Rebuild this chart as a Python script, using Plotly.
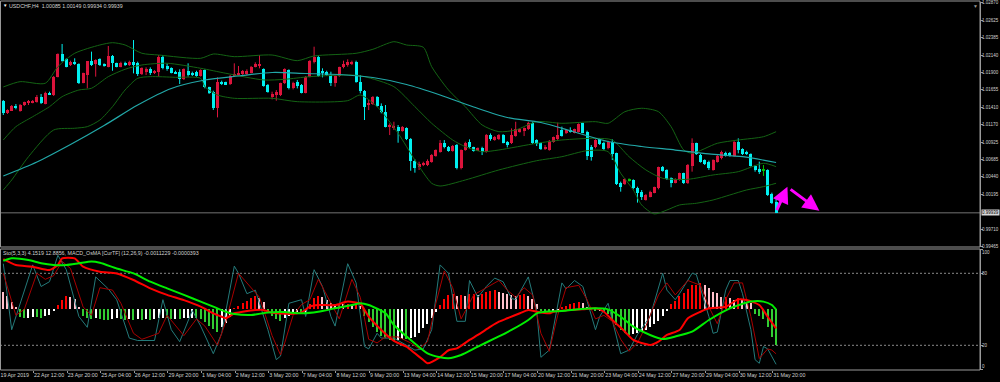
import plotly.graph_objects as go

# ---------------- DATA (USDCHF, H4) ----------------
opens = [1.01503,1.01326,1.01363,1.01428,1.01359,1.01442,1.01466,1.01475,1.01489,1.01559,
1.01456,1.01614,1.01582,1.01838,1.02154,1.02084,1.02001,1.02047,1.02014,1.01754,
1.01861,1.02056,1.02014,1.02080,1.02005,1.01977,1.02126,1.02024,1.01977,1.02033,
1.02001,1.02038,1.02024,1.01870,1.01908,1.01940,1.01884,1.01908,1.02117,1.01987,
1.01954,1.01908,1.01908,1.01800,1.01921,1.01894,1.01903,1.01847,1.01931,1.01689,
1.01628,1.01396,1.01768,1.01759,1.01735,1.01852,1.01861,1.01875,1.01875,1.01894,
1.01977,1.01987,1.01940,1.01721,1.01549,1.01581,1.01581,1.01744,1.01930,1.01674,
1.01767,1.01721,1.01614,1.01837,1.02047,1.02116,1.01921,1.01907,1.01861,1.01753,
1.01847,1.01968,1.02000,1.02014,1.02047,1.01767,1.01642,1.01442,1.01456,1.01558,
1.01428,1.01349,1.01130,1.01130,1.01130,1.01084,1.01116,1.00972,1.00665,1.00572,
1.00609,1.00604,1.00651,1.00730,1.00791,1.00916,1.00860,1.00804,1.00884,1.00558,
1.00814,1.00930,1.00851,1.00814,1.00837,1.00791,1.01023,1.00953,1.00963,1.01023,
1.00930,1.00907,1.01009,1.01070,1.01084,1.01102,1.01195,1.00954,1.00908,1.00824,
1.00815,1.00931,1.00964,1.01094,1.01047,1.01094,1.01057,1.01071,1.01187,1.01071,
1.00861,1.00852,1.00964,1.00917,1.00838,1.00931,1.00768,1.00359,1.00340,1.00396,
1.00396,1.00280,1.00233,1.00117,1.00163,1.00219,1.00280,1.00573,1.00536,1.00419,
1.00359,1.00396,1.00489,1.00349,1.00591,1.00908,1.00745,1.00675,1.00652,1.00536,
1.00652,1.00698,1.00777,1.00777,1.00731,1.00931,1.00824,1.00791,1.00759,1.00591,
1.00545,1.00536,1.00536,1.00201,1.00085]
highs = [1.01512,1.01382,1.01442,1.01456,1.01456,1.01489,1.01512,1.01512,1.01582,1.01596,
1.01628,1.01628,1.01847,1.02163,1.02294,1.02094,1.02061,1.02094,1.02024,1.01894,
1.02056,1.02187,1.02080,1.02094,1.02024,1.02266,1.02140,1.02033,1.02047,1.02047,
1.02061,1.02349,1.02047,1.01968,1.01968,1.01968,1.01931,1.02140,1.02140,1.02024,
1.01968,1.01921,1.01940,1.01954,1.02024,1.01908,1.01921,1.01940,1.01940,1.01698,
1.01642,1.01828,1.01782,1.01768,1.01861,1.02024,1.01987,1.01931,1.01940,1.01987,
1.02038,1.02140,1.01954,1.01735,1.01628,1.01651,1.01753,1.01954,1.01940,1.01767,
1.01791,1.01735,1.01847,1.02070,1.02256,1.02140,1.01954,1.01921,1.01907,1.01861,
1.01977,1.02061,1.02079,1.02061,1.02061,1.01861,1.01651,1.01512,1.01567,1.01567,
1.01465,1.01442,1.01186,1.01209,1.01163,1.01149,1.01130,1.00981,1.00684,1.00651,
1.00651,1.00684,1.00758,1.00823,1.00953,1.00953,1.00870,1.00884,1.00898,1.00823,
1.00930,1.00963,1.00860,1.00851,1.00860,1.01037,1.01046,1.01009,1.01037,1.01037,
1.00939,1.01116,1.01209,1.01116,1.01130,1.01209,1.01209,1.00964,1.00917,1.00884,
1.00954,1.01001,1.01196,1.01140,1.01103,1.01131,1.01112,1.01187,1.01196,1.01084,
1.00884,1.00964,1.00977,1.00931,1.00945,1.00964,1.00777,1.00373,1.00419,1.00419,
1.00405,1.00303,1.00256,1.00201,1.00247,1.00303,1.00582,1.00591,1.00545,1.00433,
1.00419,1.00498,1.00498,1.00619,1.00977,1.00917,1.00759,1.00684,1.00666,1.00684,
1.00745,1.00805,1.00791,1.00787,1.00954,1.00977,1.00838,1.00805,1.00768,1.00605,
1.00652,1.00605,1.00545,1.00219,1.00149]
lows = [1.01303,1.01317,1.01359,1.01382,1.01349,1.01428,1.01442,1.01466,1.01475,1.01456,
1.01452,1.01582,1.01568,1.01828,1.02047,1.01968,1.01987,1.02001,1.01735,1.01745,
1.01675,1.01987,1.01838,1.01987,1.01977,1.01968,1.01921,1.01968,1.01968,1.01987,
1.01987,1.01884,1.01847,1.01861,1.01861,1.01861,1.01875,1.01838,1.01940,1.01921,
1.01884,1.01875,1.01735,1.01791,1.01838,1.01847,1.01838,1.01838,1.01675,1.01596,
1.01373,1.01270,1.01721,1.01721,1.01721,1.01838,1.01847,1.01861,1.01861,1.01884,
1.01968,1.01954,1.01698,1.01614,1.01521,1.01502,1.01567,1.01735,1.01660,1.01660,
1.01674,1.01605,1.01605,1.01828,1.02023,1.01837,1.01828,1.01847,1.01707,1.01698,
1.01837,1.01954,1.01977,1.02000,1.01753,1.01605,1.01233,1.01372,1.01442,1.01419,
1.01326,1.01130,1.01023,1.01093,1.00916,1.01070,1.00953,1.00525,1.00498,1.00535,
1.00590,1.00590,1.00637,1.00721,1.00777,1.00837,1.00791,1.00791,1.00544,1.00544,
1.00804,1.00837,1.00791,1.00804,1.00744,1.00777,1.00944,1.00944,1.00953,1.00907,
1.00851,1.00898,1.01000,1.01056,1.01009,1.01093,1.00898,1.00870,1.00815,1.00815,
1.00805,1.00917,1.00954,1.01001,1.01038,1.01057,1.01047,1.01057,1.01047,1.00675,
1.00666,1.00838,1.00884,1.00815,1.00824,1.00675,1.00326,1.00233,1.00326,1.00373,
1.00266,1.00080,1.00117,1.00108,1.00154,1.00210,1.00266,1.00512,1.00396,1.00294,
1.00349,1.00387,1.00340,1.00340,1.00512,1.00745,1.00638,1.00605,1.00536,1.00526,
1.00638,1.00684,1.00722,1.00722,1.00722,1.00768,1.00745,1.00745,1.00582,1.00512,
1.00480,1.00452,1.00173,1.00061,0.99934]
closes = [1.01326,1.01373,1.01428,1.01405,1.01442,1.01479,1.01498,1.01498,1.01549,1.01475,
1.01614,1.01591,1.01838,1.02154,1.02061,1.01977,1.02047,1.02014,1.01754,1.01884,
1.02056,1.02001,1.02070,1.01996,1.01987,1.02126,1.02024,1.01977,1.02033,1.01996,
1.02038,1.02014,1.01875,1.01954,1.01940,1.01884,1.01921,1.02117,1.01954,1.01940,
1.01894,1.01884,1.01800,1.01940,1.01861,1.01861,1.01847,1.01931,1.01689,1.01614,
1.01396,1.01768,1.01735,1.01735,1.01847,1.01870,1.01894,1.01921,1.01921,1.01977,
1.02010,1.02005,1.01707,1.01628,1.01595,1.01628,1.01744,1.01940,1.01674,1.01753,
1.01707,1.01614,1.01837,1.02061,1.02116,1.01847,1.01884,1.01861,1.01753,1.01847,
1.01968,1.02014,1.02047,1.02047,1.01767,1.01642,1.01419,1.01474,1.01558,1.01428,
1.01349,1.01140,1.01163,1.01149,1.01084,1.01130,1.00963,1.00665,1.00558,1.00618,
1.00628,1.00665,1.00744,1.00814,1.00916,1.00851,1.00804,1.00870,1.00558,1.00814,
1.00916,1.00851,1.00804,1.00837,1.00791,1.01023,1.00963,1.00991,1.01023,1.00916,
1.00884,1.01023,1.01102,1.01102,1.01116,1.01195,1.00916,1.00898,1.00824,1.00861,
1.00945,1.00991,1.01024,1.01010,1.01094,1.01066,1.01103,1.01177,1.01057,1.00731,
1.00722,1.00954,1.00898,1.00824,1.00931,1.00759,1.00340,1.00303,1.00405,1.00396,
1.00280,1.00210,1.00154,1.00187,1.00233,1.00294,1.00573,1.00526,1.00405,1.00359,
1.00405,1.00489,1.00349,1.00605,1.00908,1.00759,1.00652,1.00619,1.00559,1.00675,
1.00731,1.00791,1.00731,1.00731,1.00931,1.00815,1.00759,1.00759,1.00591,1.00536,
1.00512,1.00536,1.00187,1.00080,0.99939]

# Moving average (sampled every 8 bars)
ma_idx = [0,8,16,24,32,40,48,56,64,72,80,88,96,104,112,120,128,136,144,152,160,168,176,184]
ma_vals = [1.00452,1.00647,1.00891,1.01156,1.01442,1.01673,1.01791,1.01847,1.01896,1.01882,
1.01868,1.01826,1.01729,1.01582,1.01415,1.01268,1.01198,1.01066,1.00933,1.00863,
1.00814,1.00759,1.00721,1.00640]

# Bollinger bands
bb_up_idx = [0,4,10,13,17,23,26,29,33,37,47,50,55,64,70,74,84,88,93,96,100,102,106,110,114,
118,122,127,133,141,144,148,152,156,159,162,164,170,175,181,184]
bb_up = [1.01694,1.01768,1.01746,1.01977,1.02164,1.02280,1.02312,1.02280,1.02164,1.02140,
1.02094,1.02154,1.02117,1.02140,1.02061,1.02127,1.02164,1.02220,1.02326,1.02280,1.02248,
1.01977,1.01652,1.01419,1.01164,1.01070,1.01094,1.01210,1.01187,1.01210,1.01187,1.01349,
1.01397,1.01349,1.01140,1.00815,1.00769,1.00908,1.00954,1.01000,1.01070]
bb_mid_idx = [0,3,7,11,14,18,21,25,29,33,39,47,53,62,67,73,83,86,93,98,102,107,110,114,118,
127,133,141,145,149,153,157,163,169,175,181,184]
bb_mid = [1.00954,1.01140,1.01279,1.01419,1.01559,1.01652,1.01676,1.01838,1.01941,1.02001,
1.02025,1.01955,1.01885,1.01792,1.01801,1.01838,1.01861,1.01838,1.01698,1.01419,1.01187,
1.00954,1.00861,1.00791,1.00815,1.00908,1.00954,1.00978,1.00954,1.00721,1.00536,1.00420,
1.00406,1.00466,1.00512,1.00629,1.00582]
bb_low_idx = [0,2,6,12,17,20,23,26,29,32,35,41,47,48,51,55,64,70,82,85,89,94,98,102,104,110,
118,127,133,139,144,147,150,152,155,158,161,165,169,173,177,181,184]
bb_low = [1.00257,1.00396,1.00721,1.01094,1.01118,1.01140,1.01233,1.01419,1.01652,1.01815,
1.01838,1.01829,1.01815,1.01698,1.01582,1.01536,1.01536,1.01489,1.01503,1.01582,1.01419,
1.01048,1.00675,1.00350,1.00312,1.00396,1.00536,1.00665,1.00721,1.00805,1.00791,1.00490,
1.00257,1.00047,0.99922,0.99977,1.00047,1.00071,1.00117,1.00187,1.00257,1.00303,1.00350]

# Stochastic (5,3,3)
sto_main_idx = [0,2,7,9,11,13,15,18,20,22,25,27,30,32,36,38,40,42,45,47,50,52,55,56,58,60,63,
65,66,68,71,72,74,76,78,79,82,84,86,87,89,90,93,98,100,102,104,106,108,110,111,113,115,117,
119,121,122,125,127,128,130,133,134,136,138,141,142,144,147,149,151,154,157,158,160,161,164,
165,168,169,170,172,173,175,176,178,179,180,181,182,184]
sto_main = [88,33,87,69,73,95,83,44,35,77,67,58,26,24,24,58,33,23,49,36,13,30,86,80,63,66,33,
8,11,55,58,44,83,69,44,36,88,72,19,17,30,26,26,16,17,33,87,80,40,40,74,60,69,76,73,59,58,77,
49,10,16,72,67,74,69,33,44,55,13,16,29,44,80,66,58,63,80,79,44,30,31,66,74,74,63,33,8,5,19,
17,4.1519]
sto_sig_idx = [0,3,5,8,10,12,14,16,19,21,23,26,28,31,33,37,39,41,43,46,48,51,53,56,58,61,64,66,
67,69,71,73,75,77,80,83,85,87,89,91,94,97,99,101,103,105,107,109,111,112,114,116,118,120,
122,124,126,128,130,132,134,137,139,141,143,145,147,149,151,153,156,158,160,163,166,168,170,
172,174,176,178,180,182,183,184]
sto_sig = [80,45,50,80,75,78,90,84,52,45,68,66,55,30,25,30,45,36,28,42,36,20,40,80,72,60,28,12,
22,45,54,58,75,62,42,75,60,25,22,27,27,22,17,23,55,82,68,42,55,62,66,70,74,66,60,68,62,30,15,
45,68,70,58,42,45,40,25,15,22,36,62,72,62,74,70,52,38,58,72,72,44,9,17,16,12.8856]

# MACD_OsMA (12,26,9)
macd_idx = [0,3,7,11,13,14,17,19,23,27,31,35,39,43,47,50,52,53,55,57,60,62,64,67,69,71,73,75,
79,82,85,87,90,93,96,98,100,101,104,106,108,111,113,116,118,120,123,125,127,130,131,135,138,
141,143,145,148,150,154,156,158,161,163,166,168,172,175,177,180,182,184]
macd_main = [0.00290,0.00256,0.00246,0.00227,0.00256,0.00295,0.00295,0.00246,0.00217,0.00207,
0.00169,0.00120,0.00082,0.00052,0.00014,-0.00025,-0.00045,-0.00054,-0.00025,-0.00016,
-0.00006,-0.00006,-0.00022,-0.00028,-0.00028,-0.00020,0.00014,0.00023,0.00023,0.00043,
0.00030,-0.00045,-0.00122,-0.00185,-0.00219,-0.00258,-0.00297,-0.00316,-0.00280,-0.00240,
-0.00229,-0.00180,-0.00151,-0.00103,-0.00074,-0.00054,-0.00025,-0.00006,-0.00016,-0.00025,
-0.00016,-0.00006,-0.00002,0.00004,-0.00016,-0.00064,-0.00132,-0.00180,-0.00209,-0.00190,
-0.00151,-0.00122,-0.00054,-0.00016,0.00004,0.00013,0.00056,0.00052,0.00023,-0.00045,-0.0011229]
macd_sig_idx = [0,2,6,9,12,15,18,21,23,27,31,35,39,43,47,50,53,55,59,63,67,71,75,79,83,85,87,
91,93,97,101,104,106,109,113,117,121,125,127,129,133,137,141,144,147,150,154,157,160,164,168,
173,178,181,183,184]
macd_sig = [0.00280,0.00295,0.00285,0.00266,0.00256,0.00256,0.00266,0.00276,0.00269,0.00236,
0.00207,0.00159,0.00120,0.00082,0.00043,0.00014,-0.00016,-0.00029,-0.00035,-0.00020,
-0.00018,-0.00025,-0.00016,0.00004,0.00023,0.00033,0.00023,-0.00025,-0.00093,-0.00180,
-0.00258,-0.00281,-0.00287,-0.00268,-0.00219,-0.00171,-0.00122,-0.00064,-0.00025,-0.00016,
-0.00012,-0.00002,0.00004,-0.00002,-0.00045,-0.00103,-0.00151,-0.00175,-0.00160,-0.00132,
-0.00064,0.00004,0.00043,0.00043,0.00023,-0.0000393]
osma = [50,40,22,5,-25,-28,-27,-24,-25,-27,-22,-18,-5,12,28,38,36,30,5,-22,
-28,-30,-28,-30,-32,-33,-30,-28,-30,-32,-30,-33,-30,-32,-30,-32,-30,-28,-26,-28,
-30,-29,-30,-28,-27,-26,-28,-30,-40,-50,-60,-68,-55,-42,-25,3,10,18,25,32,
38,34,20,-12,-22,-30,-35,-28,-20,-12,-10,-16,-12,15,32,38,35,28,18,12,
15,14,16,10,12,8,-20,-38,-55,-68,-80,-88,-92,-95,-92,-90,-90,-88,-85,-72,
-58,-45,-28,-10,12,30,42,45,40,42,40,44,45,42,44,52,55,56,50,48,
44,42,40,42,45,40,30,15,-5,-8,-10,-6,-4,5,10,14,18,22,18,4,
-2,-5,-4,-8,-15,-30,-48,-62,-72,-78,-75,-72,-68,-62,-55,-45,-35,-20,-5,15,
25,38,48,60,72,72,77,72,62,52,47,37,37,32,27,32,27,22,17,-15,
-22,-30,-55,-85,-108]
OSMA_UNIT = 0.00001

# Time axis labels (every 8 bars)
tick_idx = list(range(0, 185, 8))
tick_labels = ["19 Apr 2019","22 Apr 12:00","23 Apr 20:00","25 Apr 04:00","26 Apr 12:00",
"29 Apr 20:00","1 May 04:00","2 May 12:00","3 May 20:00","7 May 04:00","8 May 12:00",
"9 May 20:00","13 May 04:00","14 May 12:00","15 May 20:00","17 May 04:00","20 May 12:00",
"21 May 20:00","23 May 04:00","24 May 12:00","27 May 20:00","29 May 04:00","30 May 12:00",
"31 May 20:00"]

price_ticks = [1.02870,1.02625,1.02385,1.02140,1.01900,1.01655,1.01410,1.01170,1.00925,
1.00685,1.00440,1.00195,0.99710,0.99465]
sto_levels = [100, 80, 20, 0]

# hand-drawn arrows (bar index, price)
arrow1 = dict(x0=184.0, p0=0.99954, x1=186.7, p1=1.00303)
arrow2 = dict(x0=187.1, p0=1.00280, x1=194.3, p1=0.99968)

# ---------------- STYLE ----------------
BULL = '#dc143c'
BEAR = '#00f0f0'
DOJI = '#00c000'
FONT = 'Liberation Sans, Arial, sans-serif'
FS = 5.3
AFS = 4.5
TXT = '#d2d2d2'
FRAME = '#9a9a9a'

MAIN_DOM = [0.33333, 0.99729]
LOW_DOM = [0.0, 0.32791]
X_RANGE = [-0.786, 232.55]

n = len(opens)
fig = go.Figure()

# candles
groups = {'bull': [], 'bear': [], 'doji': []}
for i in range(n):
    if closes[i] > opens[i]:
        groups['bull'].append(i)
    elif closes[i] < opens[i]:
        groups['bear'].append(i)
    else:
        groups['doji'].append(i)
colors = {'bull': BULL, 'bear': BEAR, 'doji': DOJI}
MIN_BODY = 0.00007
for g, ids in groups.items():
    if not ids:
        continue
    wx, wy = [], []
    for i in ids:
        wx += [i, i, None]
        wy += [lows[i], highs[i], None]
    fig.add_trace(go.Scatter(x=wx, y=wy, mode='lines', line=dict(color=colors[g], width=1),
                             xaxis='x', yaxis='y', hoverinfo='skip'))
    heights = [max(abs(closes[i] - opens[i]), MIN_BODY) for i in ids]
    bases = [min(opens[i], closes[i]) - (MIN_BODY / 2 if opens[i] == closes[i] else 0) for i in ids]
    fig.add_trace(go.Bar(x=ids, y=heights, base=bases, width=0.7,
                         marker=dict(color=colors[g], line=dict(width=0)),
                         xaxis='x', yaxis='y', hoverinfo='skip'))

# indicators on main chart
for ix, vals in [(bb_up_idx, bb_up), (bb_mid_idx, bb_mid), (bb_low_idx, bb_low)]:
    fig.add_trace(go.Scatter(x=ix, y=vals, mode='lines',
                             line=dict(color='#146414', width=1, shape='spline', smoothing=0.7),
                             xaxis='x', yaxis='y', hoverinfo='skip'))
fig.add_trace(go.Scatter(x=ma_idx, y=ma_vals, mode='lines',
                         line=dict(color='#22a8a8', width=1.2, shape='spline', smoothing=0.8),
                         xaxis='x', yaxis='y', hoverinfo='skip'))

# OsMA histogram (y2)
hcols = []
for i, h in enumerate(osma):
    prev = osma[i - 1] if i > 0 else h + 1
    if h >= 0:
        hcols.append('#ff0000' if h >= prev else '#ffc0cb')
    else:
        hcols.append('#32cd32' if h <= prev else '#ffffff')
fig.add_trace(go.Bar(x=list(range(n)), y=[h * OSMA_UNIT for h in osma], width=0.32,
                     marker=dict(color=hcols, line=dict(width=0)),
                     xaxis='x', yaxis='y2', hoverinfo='skip'))

# Stochastic (y3)
fig.add_trace(go.Scatter(x=sto_main_idx, y=sto_main, mode='lines',
                         line=dict(color='#247a7a', width=1), xaxis='x', yaxis='y3', hoverinfo='skip'))
fig.add_trace(go.Scatter(x=sto_sig_idx, y=sto_sig, mode='lines',
                         line=dict(color='#a80000', width=1), xaxis='x', yaxis='y3', hoverinfo='skip'))

# MACD lines (y4)
fig.add_trace(go.Scatter(x=macd_idx, y=macd_main, mode='lines',
                         line=dict(color='#ff0000', width=2, shape='spline', smoothing=0.6),
                         xaxis='x', yaxis='y4', hoverinfo='skip'))
fig.add_trace(go.Scatter(x=macd_sig_idx, y=macd_sig, mode='lines',
                         line=dict(color='#00ee00', width=2, shape='spline', smoothing=0.6),
                         xaxis='x', yaxis='y4', hoverinfo='skip'))

shapes = [
    dict(type='line', xref='paper', x0=0, x1=1, yref='y', y0=closes[-1], y1=closes[-1],
         line=dict(color='#4c4c4c', width=1.5), layer='below'),
    dict(type='line', xref='paper', x0=0, x1=1, yref='y3', y0=80, y1=80,
         line=dict(color='#8a8a8a', width=1, dash='2px,2px'), layer='below'),
    dict(type='line', xref='paper', x0=0, x1=1, yref='y3', y0=20, y1=20,
         line=dict(color='#8a8a8a', width=1, dash='2px,2px'), layer='below'),
    dict(type='rect', xref='paper', yref='paper', x0=0.0005, x1=1, y0=MAIN_DOM[0], y1=1.0,
         line=dict(color=FRAME, width=1), layer='above'),
    dict(type='rect', xref='paper', yref='paper', x0=0.0005, x1=1, y0=0, y1=LOW_DOM[1],
         line=dict(color=FRAME, width=1), layer='above'),
]

annotations = [
    dict(xref='paper', yref='paper', x=0, y=0.98645, xanchor='left', yanchor='middle', xshift=1,
         text='▼', showarrow=False, font=dict(size=4.5, color='#ffffff', family=FONT)),
    dict(xref='paper', yref='paper', x=0, y=0.98645, xanchor='left', yanchor='middle', xshift=7,
         text=f"USDCHF,H4  {opens[-1]:.5f} {highs[-1]:.5f} {lows[-1]:.5f} {closes[-1]:.5f}",
         showarrow=False, font=dict(size=FS, color=TXT, family=FONT)),
    dict(xref='paper', yref='paper', x=0, y=0.3171, xanchor='left', yanchor='middle', xshift=1,
         text=f"Sto(5,3,3) {sto_main[-1]:.4f} {sto_sig[-1]:.4f}, MACD_OsMA [CurTF] (12,26,9) "
              f"{macd_main[-1]:.7f} {macd_sig[-1]:.7f}",
         showarrow=False, font=dict(size=FS, color=TXT, family=FONT)),
    dict(xref='paper', yref='paper', x=0.9949, y=1.0, xanchor='center', yanchor='top',
         text='▼', showarrow=False, font=dict(size=5, color='#9a9a9a', family=FONT)),
    dict(xref='paper', yref='y', x=1, y=closes[-1], xanchor='left', yanchor='middle', xshift=0.5,
         text=f"{closes[-1]:.5f}", showarrow=False, bgcolor='#d8d8d8', borderpad=0,
         font=dict(size=AFS, color='#000000', family=FONT)),
]
# price scale labels
for v in price_ticks:
    annotations.append(dict(xref='paper', yref='y', x=1, y=v, xanchor='left', yanchor='middle',
                            xshift=0.5, borderpad=0, text=f"{v:.5f}", showarrow=False,
                            font=dict(size=AFS, color=TXT, family=FONT)))
# stochastic scale labels (MT4 draws the extremes inside the window)
for v, ys in zip(sto_levels, [-2.8, 0, 0, 3]):
    annotations.append(dict(xref='paper', yref='y3', x=1, y=v, xanchor='left', yanchor='middle',
                            xshift=0.5, yshift=ys, borderpad=0, text=str(v), showarrow=False,
                            font=dict(size=AFS, color=TXT, family=FONT)))
for a in (arrow1, arrow2):
    annotations.append(dict(xref='x', yref='y', axref='x', ayref='y', x=a['x1'], y=a['p1'],
                            ax=a['x0'], ay=a['p0'], text='', showarrow=True, arrowhead=2,
                            arrowsize=1.1, arrowwidth=3, arrowcolor='#ff00ff'))

fig.update_layout(
    width=1000, height=382,
    margin=dict(l=0, r=20, t=1, b=12, autoexpand=False),
    paper_bgcolor='#000000', plot_bgcolor='#000000',
    showlegend=False, barmode='overlay', bargap=0,
    font=dict(family=FONT, size=FS, color=TXT),
    xaxis=dict(domain=[0, 1], range=X_RANGE, anchor='y2', showgrid=False, zeroline=False,
               tickmode='array', tickvals=[i - 0.8 for i in tick_idx], ticktext=tick_labels,
               ticks='outside', ticklen=2, tickcolor=FRAME, tickwidth=1, tickangle=0,
               ticklabelposition='outside right', tickfont=dict(size=FS, color=TXT, family=FONT),
               showline=False, fixedrange=True, automargin=False),
    yaxis=dict(domain=MAIN_DOM, range=[0.994608, 1.028798], anchor='x', side='right',
               showgrid=False, zeroline=False, tickmode='array', tickvals=price_ticks,
               showticklabels=False, ticks='outside', ticklen=2,
               tickcolor=FRAME, showline=True, linecolor=FRAME, linewidth=1, automargin=False,
               fixedrange=True),
    yaxis2=dict(domain=LOW_DOM, range=[-0.00183, 0.0018], anchor='x', visible=False,
                fixedrange=True),
    yaxis3=dict(overlaying='y2', range=[-0.58, 100.25], anchor='x', side='right',
                showgrid=False, zeroline=False, tickmode='array', tickvals=sto_levels,
                showticklabels=False, ticks='outside', ticklen=2, tickcolor=FRAME,
                showline=True, linecolor=FRAME, linewidth=1, automargin=False,
                fixedrange=True),
    yaxis4=dict(overlaying='y2', range=[-0.00355, 0.003492], anchor='x', visible=False,
                fixedrange=True),
    shapes=shapes, annotations=annotations,
)

fig.write_html("out.html", config={'displayModeBar': False},
               post_script="document.body.style.margin='0';document.body.style.background='#000';")
